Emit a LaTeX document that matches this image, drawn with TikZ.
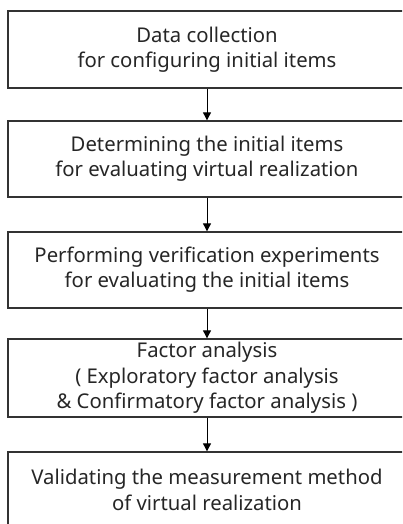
\documentclass[tikz,border=0pt]{standalone}
\usepackage{fontspec}
\setmainfont{Noto Sans}
\usetikzlibrary{arrows.meta}
\begin{document}
\begin{tikzpicture}[x=1pt,y=-1pt,
  stepbox/.style={draw=black!80, line width=1.3pt, minimum width=398pt, inner sep=0pt, align=center, font=\fontsize{20.3}{25.3}\selectfont, text=black!85},
  conn/.style={line width=0.9pt, -{Triangle[length=8pt,width=8pt]}}]
\clip (0,0) rectangle (402,524);
\fill[white] (0,0) rectangle (402,524);
\node[stepbox, minimum height=77pt] (b1) at (207,49.5) {Data collection\\for configuring initial items};
\node[stepbox, minimum height=76pt] (b2) at (207,159) {Determining the initial items\\for evaluating virtual realization};
\node[stepbox, minimum height=76pt] (b3) at (207,270) {Performing verification experiments\\for evaluating the initial items};
\node[stepbox, minimum height=78pt] (b4) at (207,378) {Factor analysis\\( Exploratory factor analysis\\\& Confirmatory factor analysis )};
\node[stepbox, minimum height=76pt] (b5) at (207,490) {Validating the measurement method\\of virtual realization};
\draw[conn] (b1.south) -- (b2.north);
\draw[conn] (b2.south) -- (b3.north);
\draw[conn] (b3.south) -- (b4.north);
\draw[conn] (b4.south) -- (b5.north);
\end{tikzpicture}
\end{document}
